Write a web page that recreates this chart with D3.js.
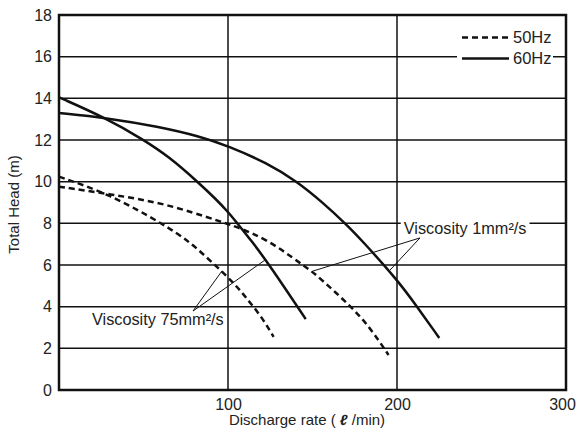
<!DOCTYPE html>
<html>
<head>
<meta charset="utf-8">
<script src="https://cdn.jsdelivr.net/npm/d3@7/dist/d3.min.js"></script>
<style>
body { margin: 0; background: #fff; }
text { font-family: "Liberation Sans", Arial, Helvetica, sans-serif; fill: #222; }
</style>
</head>
<body>
<svg id="chart"></svg>
<script>
// tick values
var xTicks = [100, 200, 300]
var yTicks = [0, 2, 4, 6, 8, 10, 12, 14, 16, 18]

// curves: [discharge l/min, total head m]
var hz60_visc1 = [[0, 13.3], [27.6, 13.07], [59, 12.64], [83, 12.18], [100, 11.72], [123, 10.9], [141, 10.0],
                  [156, 9.0], [170, 7.95], [179, 7.2], [200, 5.3], [211, 4.1], [225, 2.5]]
var hz60_visc75 = [[0, 14.05], [27.6, 13.06], [50.3, 12.0], [65, 11.2], [82, 10.0], [93, 9.15], [100, 8.55],
                   [105, 8.05], [114, 7.15], [125, 5.95], [146, 3.4]]
var hz50_visc1 = [[0, 9.76], [30, 9.4], [63, 8.96], [96, 8.07], [104, 7.87], [124, 7.2], [144, 6.0],
                  [150, 5.7], [173, 4.0], [184, 3.0], [195, 1.68]]
var hz50_visc75 = [[0, 10.24], [30, 9.4], [63, 7.9], [77.5, 7.1], [91, 6.1], [104, 5.1], [112, 4.3],
                   [120, 3.5], [127, 2.55]]

var legendNames = ["50Hz", "60Hz"]

// annotations, in data units
var notes = [
    {text: "Viscosity 1mm²/s", at: [204, 7.5], from: [213.6, 7.3], to: [[150.3, 5.71], [195.9, 5.76]]},
    {text: "Viscosity 75mm²/s", at: [19.5, 3.12], from: [79.3, 3.79], to: [[96.4, 5.71], [121.9, 6.24]]}
]

draw()

function draw() {
    var W = 579, H = 429
    var pLeft = 59, pRight = 566, pTop = 15, pBottom = 390

    var svg = d3.select("#chart").attr("width", W).attr("height", H)

    var x = d3.scaleLinear().domain([0, 300]).range([pLeft, pRight])
    var y = d3.scaleLinear().domain([0, 18]).range([pBottom, pTop])

    // grid
    svg.append("g").selectAll("line")
        .data(yTicks.slice(1, -1))
        .enter().append("line")
        .attr("x1", pLeft).attr("x2", pRight)
        .attr("y1", function(d) { return y(d) }).attr("y2", function(d) { return y(d) })
        .style("stroke", "#111").style("stroke-width", 1.5)

    svg.append("g").selectAll("line")
        .data(xTicks.slice(0, -1))
        .enter().append("line")
        .attr("y1", pTop).attr("y2", pBottom)
        .attr("x1", function(d) { return x(d) }).attr("x2", function(d) { return x(d) })
        .style("stroke", "#111").style("stroke-width", 1.5)

    // axes (labels only, frame drawn below)
    var xAxis = d3.axisBottom(x).tickValues(xTicks).tickSize(0).tickPadding(9)
    var gx = svg.append("g").attr("transform", "translate(0," + pBottom + ")").call(xAxis)
    gx.select(".domain").remove()
    gx.selectAll("text").style("font-size", "16px").style("fill", "#222")
        .attr("dx", function(d) { return d == 300 ? -4 : 0 })

    var yAxis = d3.axisLeft(y).tickValues(yTicks).tickSize(0).tickPadding(7)
    var gy = svg.append("g").attr("transform", "translate(" + pLeft + ",0)").call(yAxis)
    gy.select(".domain").remove()
    gy.selectAll("text").style("font-size", "16px").style("fill", "#222")
    gx.attr("font-family", null); gy.attr("font-family", null)

    // axis titles
    svg.append("text")
        .attr("x", 307).attr("y", 425)
        .attr("text-anchor", "middle")
        .style("font-size", "15px")
        .html('Discharge rate ( <tspan style="font-weight:bold;font-style:italic">ℓ</tspan> /min)')

    svg.append("text")
        .attr("transform", "translate(19," + ((pTop + pBottom) / 2 + 2) + ") rotate(-90)")
        .attr("text-anchor", "middle")
        .style("font-size", "15px")
        .text("Total Head (m)")

    // annotation labels with white backing
    notes.forEach(function(n) {
        var t = svg.append("text")
            .attr("x", x(n.at[0])).attr("y", y(n.at[1]))
            .style("font-size", "16.3px")
            .text(n.text)
        var bb = t.node().getBBox()
        svg.insert("rect", function() { return t.node() })
            .attr("x", bb.x - 3).attr("y", bb.y).attr("width", bb.width + 6).attr("height", bb.height)
            .style("fill", "#fff")
        n.to.forEach(function(p) {
            svg.append("line")
                .attr("x1", x(n.from[0])).attr("y1", y(n.from[1]))
                .attr("x2", x(p[0])).attr("y2", y(p[1]))
                .style("stroke", "#111").style("stroke-width", 1)
        })
    })

    // curves (b-spline to smooth out reading noise)
    var line = d3.line()
        .x(function(d) { return x(d[0]) })
        .y(function(d) { return y(d[1]) })
        .curve(d3.curveBasis)

    var curves = [
        {data: hz60_visc1, dash: null},
        {data: hz60_visc75, dash: null},
        {data: hz50_visc1, dash: "6,4"},
        {data: hz50_visc75, dash: "6,4"}
    ]
    svg.append("g").selectAll("path")
        .data(curves)
        .enter().append("path")
        .attr("d", function(d) { return line(d.data) })
        .style("fill", "none")
        .style("stroke", "#111")
        .style("stroke-width", 2.5)
        .style("stroke-dasharray", function(d) { return d.dash })

    // legend
    var legX = 462, legY = [37.5, 58.5]
    svg.append("rect").attr("x", legX - 5).attr("y", legY[1] - 8).attr("width", 96).attr("height", 16).style("fill", "#fff")
    legendNames.forEach(function(name, i) {
        svg.append("line")
            .attr("x1", legX).attr("x2", legX + 47)
            .attr("y1", legY[i]).attr("y2", legY[i])
            .style("stroke", "#111").style("stroke-width", 2.5)
            .style("stroke-dasharray", i == 0 ? "6,4" : null)
        svg.append("text")
            .attr("x", legX + 51).attr("y", legY[i]).attr("dy", "0.36em")
            .style("font-size", "16.5px")
            .text(name)
    })

    // frame
    svg.append("rect")
        .attr("x", pLeft).attr("y", pTop).attr("width", pRight - pLeft).attr("height", pBottom - pTop)
        .style("fill", "none").style("stroke", "#111").style("stroke-width", 2.5)
}
</script>
</body>
</html>
